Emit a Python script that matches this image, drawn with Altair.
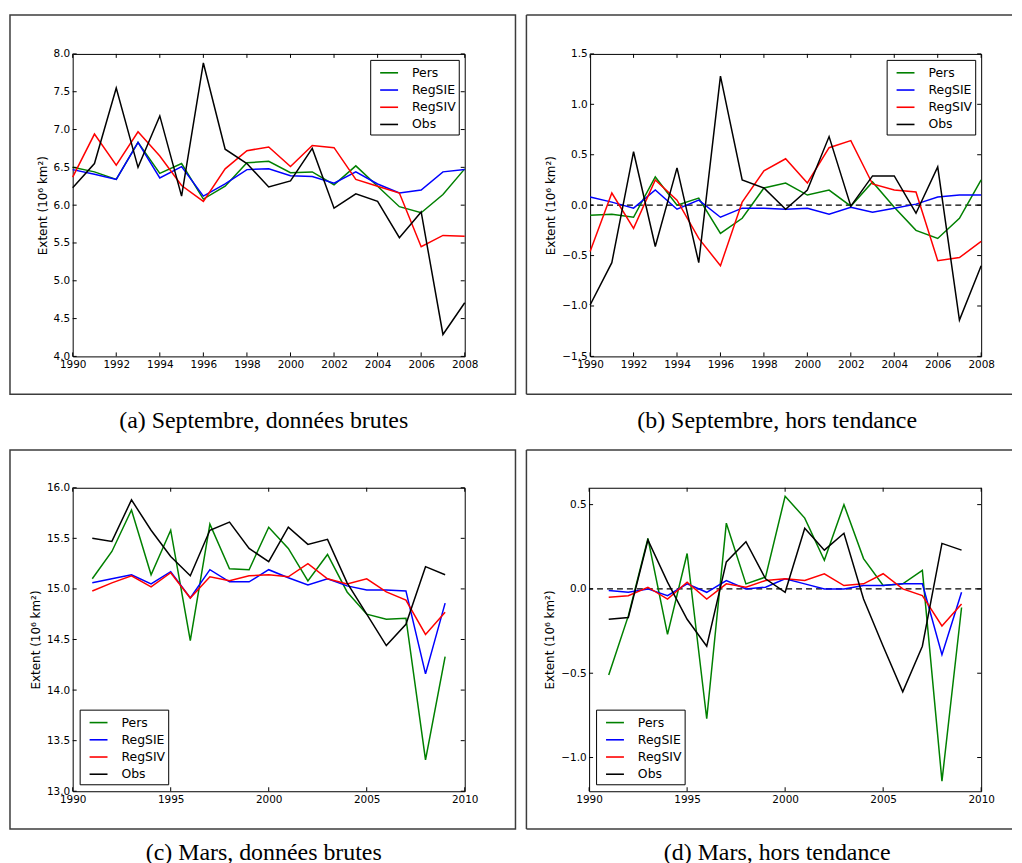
import altair as alt
import pandas as pd

SERIES = ["Pers", "RegSIE", "RegSIV", "Obs"]
COLORS = ["#008000", "#0000ff", "#ff0000", "#000000"]

years_sep = list(range(1990, 2009))
years_mar = list(range(1991, 2010))

# (a) Septembre, donnees brutes
a_pers = [6.50, 6.44, 6.34, 6.83, 6.42, 6.55, 6.08, 6.25, 6.56, 6.58, 6.43, 6.44, 6.27, 6.52, 6.25, 5.98, 5.90, 6.14, 6.48]
a_regsie = [6.47, 6.41, 6.34, 6.83, 6.36, 6.51, 6.12, 6.28, 6.47, 6.48, 6.39, 6.38, 6.29, 6.44, 6.28, 6.16, 6.20, 6.44, 6.47]
a_regsiv = [6.37, 6.94, 6.53, 6.97, 6.65, 6.26, 6.05, 6.48, 6.72, 6.77, 6.51, 6.79, 6.76, 6.34, 6.25, 6.16, 5.45, 5.60, 5.59]
a_obs = [6.23, 6.55, 7.55, 6.50, 7.18, 6.12, 7.88, 6.74, 6.55, 6.24, 6.32, 6.75, 5.96, 6.15, 6.05, 5.57, 5.91, 4.29, 4.71]

# (b) Septembre, hors tendance
b_pers = [-0.10, -0.09, -0.12, 0.28, 0.00, 0.07, -0.28, -0.13, 0.17, 0.22, 0.10, 0.15, -0.01, 0.23, -0.02, -0.25, -0.33, -0.13, 0.25]
b_regsie = [0.08, 0.03, -0.03, 0.15, -0.04, 0.05, -0.12, -0.03, -0.03, -0.04, -0.03, -0.09, -0.02, -0.07, -0.03, 0.01, 0.08, 0.10, 0.10]
b_regsiv = [-0.46, 0.12, -0.23, 0.25, 0.05, -0.33, -0.60, 0.03, 0.34, 0.46, 0.22, 0.57, 0.64, 0.21, 0.15, 0.13, -0.55, -0.52, -0.36]
b_obs = [-0.99, -0.57, 0.53, -0.41, 0.37, -0.57, 1.28, 0.25, 0.17, -0.04, 0.15, 0.68, -0.01, 0.29, 0.29, -0.08, 0.38, -1.14, -0.60]

# (c) Mars, donnees brutes
c_pers = [15.10, 15.37, 15.78, 15.14, 15.58, 14.49, 15.64, 15.20, 15.19, 15.61, 15.40, 15.08, 15.34, 14.97, 14.75, 14.70, 14.71, 13.31, 14.33]
c_regsie = [15.06, 15.10, 15.14, 15.05, 15.17, 14.91, 15.19, 15.07, 15.07, 15.19, 15.11, 15.04, 15.10, 15.03, 14.99, 14.99, 14.98, 14.16, 14.86]
c_regsiv = [14.98, 15.06, 15.13, 15.02, 15.16, 14.91, 15.12, 15.08, 15.13, 15.14, 15.12, 15.25, 15.10, 15.05, 15.10, 14.97, 14.89, 14.55, 14.77]
c_obs = [15.50, 15.47, 15.88, 15.58, 15.32, 15.13, 15.58, 15.66, 15.40, 15.27, 15.61, 15.44, 15.49, 15.06, 14.75, 14.44, 14.65, 15.22, 15.14]

# (d) Mars, hors tendance
d_pers = [-0.51, -0.16, 0.30, -0.27, 0.21, -0.77, 0.39, 0.03, 0.07, 0.55, 0.42, 0.17, 0.50, 0.18, 0.02, 0.03, 0.11, -1.14, -0.11]
d_regsie = [-0.01, -0.02, 0.00, -0.04, 0.03, -0.02, 0.05, 0.00, 0.01, 0.06, 0.03, 0.00, 0.00, 0.02, 0.02, 0.03, 0.03, -0.39, -0.02]
d_regsiv = [-0.05, -0.04, 0.01, -0.06, 0.04, -0.06, 0.03, 0.01, 0.05, 0.06, 0.05, 0.09, 0.02, 0.03, 0.09, 0.00, -0.04, -0.22, -0.09]
d_obs = [-0.18, -0.17, 0.29, 0.04, -0.18, -0.34, 0.16, 0.28, 0.06, -0.02, 0.36, 0.23, 0.33, -0.06, -0.34, -0.61, -0.34, 0.27, 0.23]

xticks_sep = list(range(1990, 2009, 2))
xticks_mar = [1990, 1995, 2000, 2005, 2010]
yticks_a = [4.0, 4.5, 5.0, 5.5, 6.0, 6.5, 7.0, 7.5, 8.0]
yticks_b = [-1.5, -1.0, -0.5, 0.0, 0.5, 1.0, 1.5]
yticks_c = [13.0, 13.5, 14.0, 14.5, 15.0, 15.5, 16.0]
yticks_d = [-1.0, -0.5, 0.0, 0.5]

captions = ["(a) Septembre, données brutes", "(b) Septembre, hors tendance",
            "(c) Mars, données brutes", "(d) Mars, hors tendance"]
YTITLE = "Extent (10⁶ km²)"


def long_df(years, *series):
    rows = []
    for name, vals in zip(SERIES, series):
        for yr, v in zip(years, vals):
            rows.append({"year": yr, "value": v, "series": name})
    return pd.DataFrame(rows)


def panel(df, xdom, xticks, ydom, yticks, yfmt, w, h, bbox, frame, frame_open,
          caption, cap_xy, leg_orient, leg_offset, zero_line):
    xs = alt.Scale(domain=xdom, nice=False, zero=False)
    ys = alt.Scale(domain=ydom, nice=False, zero=False)
    xax = alt.Axis(values=xticks, format="d", ticks=False, domain=False, grid=False,
                   labelFont="DejaVu Sans", labelFontSize=10.5, labelColor="black",
                   labelPadding=3, labelFlush=False, labelOverlap=False, title=None)
    yax = alt.Axis(values=yticks, format=yfmt, ticks=False, domain=False, grid=False,
                   labelFont="DejaVu Sans", labelFontSize=10.5, labelColor="black",
                   labelPadding=3, labelFlush=False, labelOverlap=False,
                   title=YTITLE, titleFont="DejaVu Sans", titleFontSize=12,
                   titleFontWeight="normal", titleColor="black", titlePadding=4)
    one = pd.DataFrame({"k": [0]})
    layers = []
    # invisible cell extent
    layers.append(alt.Chart(one).mark_rect(fillOpacity=0, strokeOpacity=0).encode(
        x=alt.value(bbox[0]), x2=alt.value(bbox[1]), y=alt.value(bbox[2]), y2=alt.value(bbox[3])))
    # panel frame
    fx0, fx1, fy0, fy1 = frame
    fcol = "#3c3c3c"
    if not frame_open:
        layers.append(alt.Chart(one).mark_rect(fillOpacity=0, stroke=fcol, strokeWidth=1.5).encode(
            x=alt.value(fx0), x2=alt.value(fx1), y=alt.value(fy0), y2=alt.value(fy1)))
    else:
        for seg in [(fx0, fx1, fy0, fy0), (fx0, fx1, fy1, fy1), (fx0, fx0, fy0, fy1)]:
            layers.append(alt.Chart(one).mark_rule(color=fcol, strokeWidth=1.5).encode(
                x=alt.value(seg[0]), x2=alt.value(seg[1]), y=alt.value(seg[2]), y2=alt.value(seg[3])))
    if zero_line:
        layers.append(alt.Chart(one).mark_rule(color="black", strokeWidth=1.2, strokeDash=[6, 4]).encode(
            y=alt.Y(datum=0, scale=ys, axis=yax)))
    lines = alt.Chart(df).mark_line(strokeWidth=1.5).encode(
        x=alt.X("year:Q", scale=xs, axis=xax),
        y=alt.Y("value:Q", scale=ys, axis=yax),
        color=alt.Color("series:N", scale=alt.Scale(domain=SERIES, range=COLORS),
                        legend=alt.Legend(title=None, orient=leg_orient, offset=leg_offset,
                                          strokeColor="black", fillColor="white", padding=3,
                                          cornerRadius=0, symbolType="stroke", symbolSize=324,
                                          symbolStrokeWidth=1.6, symbolOffset=6,
                                          labelFont="DejaVu Sans", labelFontSize=12.5,
                                          labelColor="black", labelOffset=13, rowPadding=0.3,
                                          labelLimit=200)),
    )
    layers.append(lines)
    # inward ticks on all four sides
    xt = pd.DataFrame({"t": xticks})
    yt = pd.DataFrame({"t": yticks})
    for ya, yb in [(0, 4), (h - 4, h)]:
        layers.append(alt.Chart(xt).mark_rule(color="black", strokeWidth=1).encode(
            x=alt.X("t:Q", scale=xs, axis=xax), y=alt.value(ya), y2=alt.value(yb)))
    for xa, xb in [(0, 4), (w - 4, w)]:
        layers.append(alt.Chart(yt).mark_rule(color="black", strokeWidth=1).encode(
            y=alt.Y("t:Q", scale=ys, axis=yax), x=alt.value(xa), x2=alt.value(xb)))
    # caption
    layers.append(alt.Chart(one).mark_text(text=caption, font="Liberation Serif", fontSize=24,
                                           color="black", align="center", baseline="middle").encode(
        x=alt.value(cap_xy[0]), y=alt.value(cap_xy[1])))
    return alt.layer(*layers).properties(width=w, height=h)


pa = panel(long_df(years_sep, a_pers, a_regsie, a_regsiv, a_obs), [1990, 2008], xticks_sep,
           [4.0, 8.0], yticks_a, ".1f", 394, 304, (-64, 449, -43, 389), (-63, 445, -39, 342), False,
           captions[0], (192, 369), "top-right", 6, False)
pb = panel(long_df(years_sep, b_pers, b_regsie, b_regsiv, b_obs), [1990, 2008], xticks_sep,
           [-1.5, 1.5], yticks_b, ".1f", 393, 304, (-69, 424, -43, 389), (-64, 424, -39, 342), True,
           captions[1], (188, 369), "top-right", 6, True)
pc = panel(long_df(years_mar, c_pers, c_regsie, c_regsiv, c_obs), [1990, 2010], xticks_mar,
           [13.0, 16.0], yticks_c, ".1f", 394, 305, (-64, 449, -45, 370), (-63, 445, -38, 343), False,
           captions[2], (192, 367), "bottom-left", 7, False)
pd_ = panel(long_df(years_mar, d_pers, d_regsie, d_regsiv, d_obs), [1990, 2010], xticks_mar,
            [-1.2, 0.6], yticks_d, ".1f", 394, 305, (-68, 425, -45, 370), (-63, 425, -38, 343), True,
            captions[3], (189, 367), "bottom-left", 7, True)

row1 = alt.hconcat(pa, pb, spacing=0).resolve_scale(x="independent", y="independent", color="independent").resolve_legend(color="independent")
row2 = alt.hconcat(pc, pd_, spacing=0).resolve_scale(x="independent", y="independent", color="independent").resolve_legend(color="independent")
chart = alt.vconcat(row1, row2, spacing=0).resolve_scale(
    x="independent", y="independent", color="independent").resolve_legend(color="independent").properties(
    padding=0, background="white").configure_view(stroke="black", strokeWidth=1)

chart.save("out.html", embed_options={"renderer": "svg", "actions": False})
